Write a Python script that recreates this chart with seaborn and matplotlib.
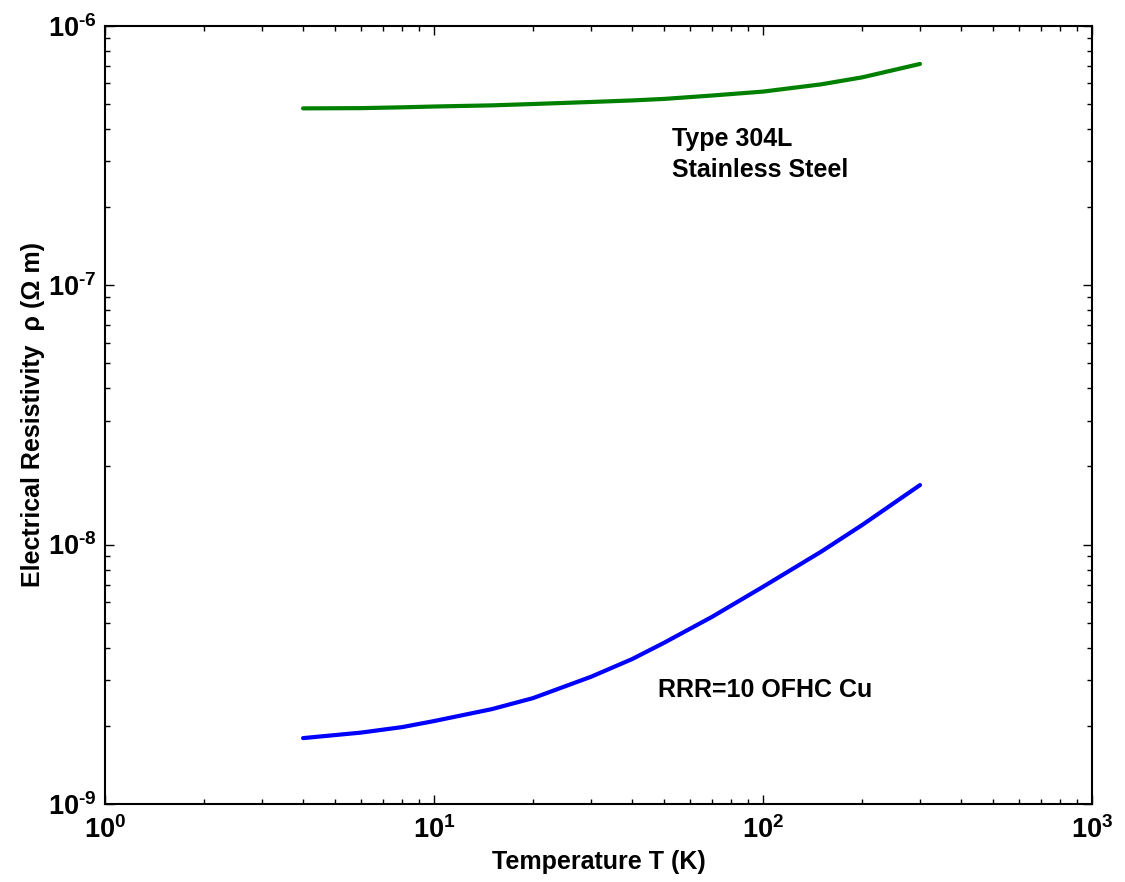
import matplotlib
matplotlib.use("Agg")
import matplotlib.pyplot as plt
import seaborn as sns
import pandas as pd
import numpy as np
from matplotlib.ticker import LogLocator, NullFormatter, FuncFormatter

# Data
temperature_K = [4, 6, 8, 10, 15, 20, 30, 40, 50, 70, 100, 150, 200, 300]
steel_304L = [4.80e-7, 4.81e-7, 4.845e-7, 4.88e-7, 4.93e-7, 4.99e-7, 5.08e-7, 5.15e-7,
              5.22e-7, 5.38e-7, 5.57e-7, 5.94e-7, 6.32e-7, 7.12e-7]
cu_rrr10 = [1.795e-9, 1.885e-9, 1.979e-9, 2.088e-9, 2.322e-9, 2.560e-9, 3.093e-9, 3.619e-9,
            4.181e-9, 5.266e-9, 6.877e-9, 9.38e-9, 1.189e-8, 1.696e-8]

sns.set_style("ticks")
plt.rcParams['font.family'] = ['Liberation Sans', 'DejaVu Sans']
plt.rcParams['mathtext.fontset'] = 'custom'
plt.rcParams['mathtext.rm'] = 'Liberation Sans:bold'
plt.rcParams['mathtext.it'] = 'Liberation Sans:bold'
plt.rcParams['mathtext.bf'] = 'Liberation Sans:bold'
plt.rcParams['mathtext.default'] = 'rm'
plt.rcParams['text.color'] = 'black'
plt.rcParams['axes.labelcolor'] = 'black'
plt.rcParams['xtick.color'] = 'black'
plt.rcParams['ytick.color'] = 'black'

df_steel = pd.DataFrame({"T": temperature_K, "rho": steel_304L})
df_cu = pd.DataFrame({"T": temperature_K, "rho": cu_rrr10})

fig = plt.figure(figsize=(11.25, 8.82), dpi=100)
ax = fig.add_axes([0.0933, 0.0884, 0.8774, 0.8825])

sns.lineplot(data=df_steel, x="T", y="rho", ax=ax, color="#008000", linewidth=3.0,
             estimator=None, sort=True)
sns.lineplot(data=df_cu, x="T", y="rho", ax=ax, color="#0000ff", linewidth=3.0,
             estimator=None, sort=True)

ax.set_xscale("log")
ax.set_yscale("log")
ax.set_xlim(1, 1000)
ax.set_ylim(1e-9, 1e-6)


def pow_fmt(v, pos):
    e = int(round(np.log10(v)))
    if e < 0:
        return r"$10^{\text{-}%d}$" % (-e)
    return r"$10^{%d}$" % e


ax.xaxis.set_major_locator(LogLocator(base=10, numticks=10))
ax.yaxis.set_major_locator(LogLocator(base=10, numticks=10))
ax.xaxis.set_major_formatter(FuncFormatter(pow_fmt))
ax.yaxis.set_major_formatter(FuncFormatter(pow_fmt))
ax.xaxis.set_minor_locator(LogLocator(base=10, subs=np.arange(2, 10), numticks=20))
ax.yaxis.set_minor_locator(LogLocator(base=10, subs=np.arange(2, 10), numticks=20))
ax.xaxis.set_minor_formatter(NullFormatter())
ax.yaxis.set_minor_formatter(NullFormatter())

for s in ax.spines.values():
    s.set_linewidth(1.5)
    s.set_color("black")
    s.set_visible(True)

ax.tick_params(which="both", direction="in", top=True, right=True, width=1.0, color="black")
ax.tick_params(which="major", length=6.5, labelsize=19.5)
ax.tick_params(which="minor", length=3.6)
ax.tick_params(axis="x", which="major", pad=9)
ax.tick_params(axis="y", which="major", pad=6)

ax.set_xlabel("Temperature T (K)", fontsize=18, fontweight="bold", labelpad=4)
ax.set_ylabel("Electrical Resistivity  ρ (Ω m)", fontsize=18, fontweight="bold", labelpad=2)

ax.text(52.9, 3.43e-7, "Type 304L", fontsize=18, fontweight="bold", va="baseline", ha="left")
ax.text(52.9, 2.62e-7, "Stainless Steel", fontsize=18, fontweight="bold", va="baseline", ha="left")
ax.text(47.9, 2.58e-9, "RRR=10 OFHC Cu", fontsize=18, fontweight="bold", va="baseline", ha="left")

fig.savefig("out.png", dpi=100)
